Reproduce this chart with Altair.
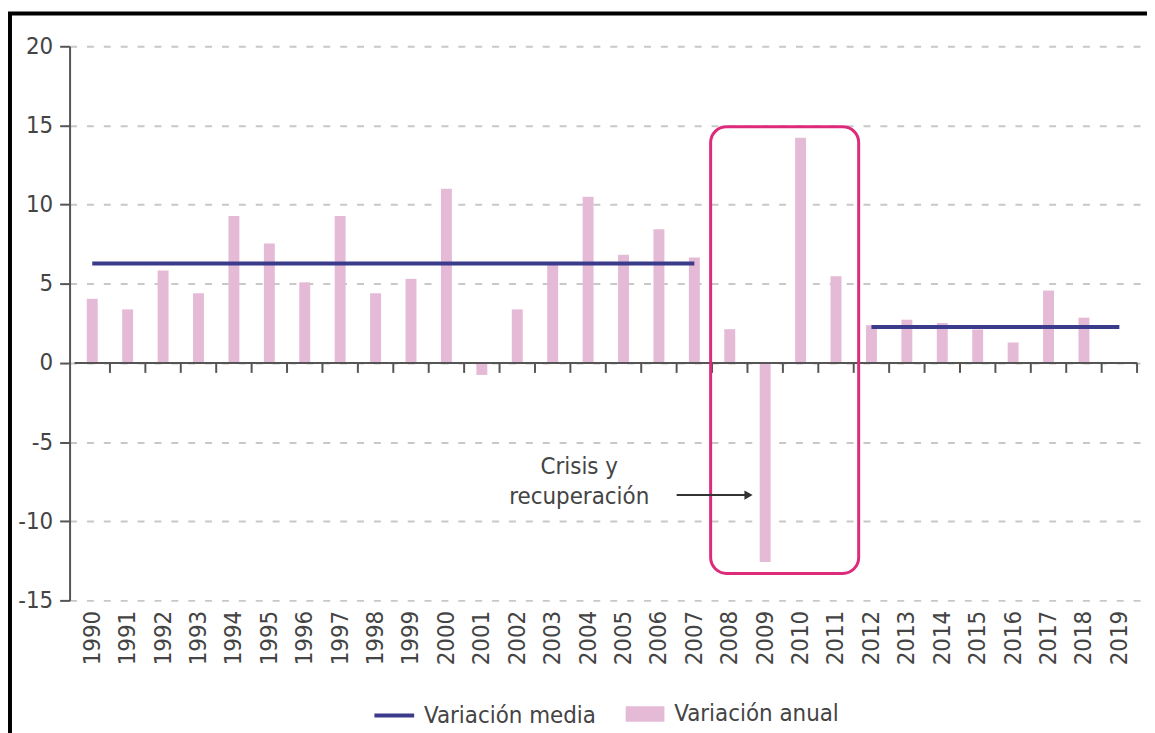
import altair as alt
import pandas as pd

# ---- data ----
years = list(range(1990, 2020))
annual = [4.05, 3.38, 5.83, 4.40, 9.28, 7.54, 5.09, 9.28, 4.40, 5.31,
          11.0, -0.76, 3.38, 6.25, 10.49, 6.83, 8.44, 6.66, 2.13, -12.57,
          14.23, 5.47, 2.38, 2.73, 2.52, 2.11, 1.29, 4.57, 2.86, 0.0]
mean_start = [1990, 2012]
mean_end = [2007, 2019]
mean_value = [6.28, 2.27]
y_ticks = [-15, -10, -5, 0, 5, 10, 15, 20]
note_lines = ["Crisis y", "recuperación"]

FONT = "DejaVu Sans Condensed"
PINK = "#E4BAD6"
NAVY = "#3B3B8C"
MAGENTA = "#DD2A7B"
GREY = "#444444"

df = pd.DataFrame({"year": years, "value": annual, "serie": "Variación anual"})
df["bound"] = df["year"] + 0.5
means = pd.DataFrame({"x": mean_start, "x2": mean_end, "y": mean_value,
                      "serie": "Variación media"})
notes = pd.DataFrame({"t": note_lines, "x": [2003.75, 2003.75], "y": [-6.6, -8.45]})

xscale = alt.Scale(domain=[1989.5, 2019.5], nice=False, zero=False)
yscale = alt.Scale(domain=[-15, 20], nice=False)

xaxis = alt.Axis(values=years, labelExpr="'' + datum.value", labelAngle=-90,
                 tickSize=0, domain=False, grid=False, labelFontSize=24,
                 labelColor=GREY, labelFont=FONT, labelPadding=10,
                 labelOverlap=False, labelFlush=False, title=None)
yaxis = alt.Axis(values=y_ticks, labelExpr="'' + datum.value", grid=True,
                 gridDash=[7, 10], gridColor="#c8c8c8", gridWidth=2,
                 domainColor="#555555", domainWidth=2, tickColor="#555555",
                 tickWidth=2, tickSize=10, labelFontSize=24, labelColor=GREY,
                 labelFont=FONT, labelPadding=7, title=None)

base = alt.Chart(df)

bars = base.mark_bar(size=11).encode(
    x=alt.X("year:Q", scale=xscale, axis=xaxis),
    y=alt.Y("value:Q", scale=yscale, axis=yaxis),
    fill=alt.Fill("serie:N", scale=alt.Scale(domain=["Variación anual"], range=[PINK]),
                  legend=alt.Legend(title=None, orient="none", legendX=559, legendY=652,
                                    symbolType="M-1,-0.4L1,-0.4L1,0.4L-1,0.4Z",
                                    symbolSize=1521, symbolOpacity=1, labelFontSize=24,
                                    labelFont=FONT, labelColor=GREY, labelOffset=9,
                                    labelLimit=400)),
)

zero_line = alt.Chart(alt.Data(values=[{}])).mark_rule(color="#555555", strokeWidth=2).encode(
    x=alt.datum(1989.5, scale=xscale, axis=xaxis), x2=alt.datum(2019.5),
    y=alt.datum(0, scale=yscale, axis=yaxis)
)

ticks = base.mark_rule(color="#555555", strokeWidth=2).encode(
    x=alt.X("bound:Q", scale=xscale, axis=xaxis),
    y=alt.datum(0, axis=yaxis), y2=alt.datum(-0.63)
)

mean_lines = alt.Chart(means).mark_rule(strokeWidth=4).encode(
    x=alt.X("x:Q", scale=xscale, axis=xaxis), x2="x2:Q",
    y=alt.Y("y:Q", scale=yscale, axis=yaxis),
    stroke=alt.Stroke("serie:N", scale=alt.Scale(domain=["Variación media"], range=[NAVY]),
                      legend=alt.Legend(title=None, orient="none", legendX=305, legendY=652,
                                        symbolType="stroke", symbolSize=1600,
                                        symbolStrokeWidth=4, labelFontSize=24,
                                        labelFont=FONT, labelColor=GREY, labelOffset=8,
                                        labelLimit=400)),
)

box = alt.Chart(alt.Data(values=[{}])).mark_rect(
    fill=None, stroke=MAGENTA, strokeWidth=3, cornerRadius=16
).encode(
    x=alt.datum(2007.46, scale=xscale, axis=xaxis), x2=alt.datum(2011.64),
    y=alt.datum(14.92, scale=yscale, axis=yaxis), y2=alt.datum(-13.3)
)

note_text = alt.Chart(notes).mark_text(fontSize=24, font=FONT, color=GREY, align="center",
                                       baseline="middle").encode(
    x=alt.X("x:Q", scale=xscale, axis=xaxis), y=alt.Y("y:Q", scale=yscale, axis=yaxis),
    text="t:N"
)

arrow = alt.Chart(alt.Data(values=[{}])).mark_rule(color="#333333", strokeWidth=2).encode(
    x=alt.datum(2006.5, scale=xscale, axis=xaxis), x2=alt.datum(2008.5),
    y=alt.datum(-8.35, scale=yscale, axis=yaxis)
)
arrow_head = alt.Chart(alt.Data(values=[{}])).mark_point(
    shape="triangle-right", filled=True, color="#333333", size=90, opacity=1
).encode(x=alt.datum(2008.53, scale=xscale, axis=xaxis),
         y=alt.datum(-8.35, scale=yscale, axis=yaxis))

frame = alt.Chart(alt.Data(values=[{}])).mark_rect(
    fill=None, stroke="black", strokeWidth=4, clip=False
).encode(
    x=alt.value(-60), x2=alt.value(1110), y=alt.value(-33), y2=alt.value(720)
)

chart = alt.layer(
    bars, zero_line, ticks, mean_lines, box, note_text, arrow, arrow_head, frame
).resolve_scale(fill="independent", stroke="independent").properties(
    width=1080, height=558,
    autosize=alt.AutoSizeParams(type="none"),
    padding={"left": 62, "top": 36, "right": 5, "bottom": 131},
).configure_view(stroke=None).configure_axisX(labelOverlap=False)

chart.save("out.html", embed_options={"renderer": "svg", "actions": False})
